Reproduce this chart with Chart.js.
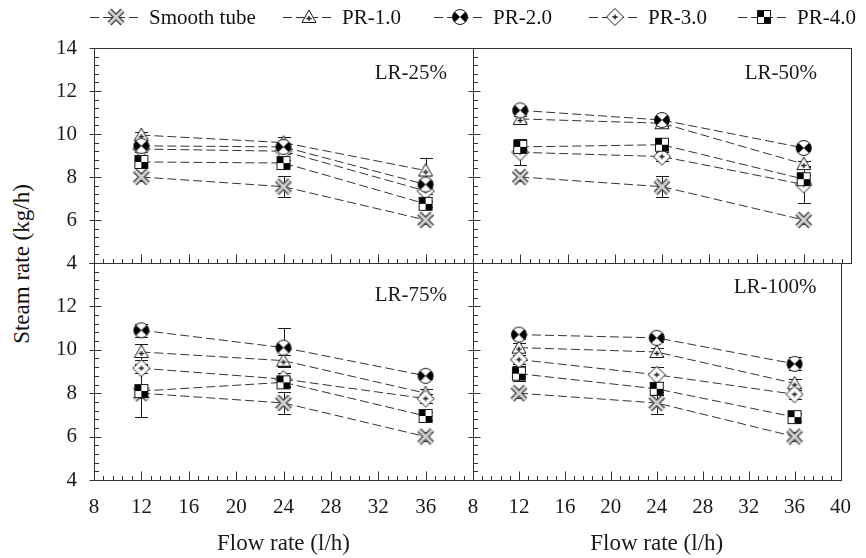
<!DOCTYPE html>
<html>
<head>
<meta charset="utf-8">
<script src="https://cdn.jsdelivr.net/npm/chart.js@4.4.0/dist/chart.umd.min.js"></script>
<style>
  html, body { margin: 0; padding: 0; background: #fff; }
  #wrap { position: relative; width: 866px; height: 558px; overflow: hidden;
          font-family: "Liberation Serif", "Times New Roman", serif; color: #111; }
  #wrap canvas.panel { position: absolute; left: 0; top: 0; }
  .legend-item { position: absolute; top: 4px; height: 26px; display: flex; align-items: center;
                 font-size: 21px; white-space: nowrap; }
  .legend-item canvas { margin-right: 7px; }
  #ytitle { position: absolute; left: 22px; top: 264px; transform: translate(-50%, -50%) rotate(-90deg);
            font-size: 23px; white-space: nowrap; }
</style>
</head>
<body>
<div id="wrap">
  <div id="ytitle">Steam rate (kg/h)</div>
</div>
<script>
// ---- data ----
const flowRates = [12, 24, 36];
const seriesNames = ['Smooth tube', 'PR-1.0', 'PR-2.0', 'PR-3.0', 'PR-4.0'];
const panelLabels = ['LR-25%', 'LR-50%', 'LR-75%', 'LR-100%'];
const xTickValues = [8, 12, 16, 20, 24, 28, 32, 36, 40];
const yTickValues = [4, 6, 8, 10, 12, 14];

// steam rate (kg/h), one row per series, one column per flow rate
const lr25Steam  = [[8.0, 7.55, 6.0], [9.95, 9.6, 8.3], [9.45, 9.4, 7.65], [9.3, 9.2, 7.35], [8.7, 8.65, 6.75]];
const lr50Steam  = [[8.0, 7.55, 6.0], [10.7, 10.5, 8.6], [11.1, 10.65, 9.35], [9.15, 8.95, 7.65], [9.4, 9.5, 7.9]];
const lr75Steam  = [[8.0, 7.55, 6.0], [9.9, 9.5, 8.0], [10.9, 10.1, 8.8], [9.15, 8.65, 7.75], [8.1, 8.5, 6.95]];
const lr100Steam = [[8.0, 7.55, 6.0], [10.1, 9.9, 8.45], [10.7, 10.55, 9.35], [9.55, 8.85, 7.95], [8.9, 8.2, 6.9]];

// error bar half-heights (kg/h)
const lr25Error  = [[0.2, 0.5, 0.2], [0.15, 0.25, 0.6], [0.15, 0.15, 0.15], [0.15, 0.15, 0.15], [0.15, 0.15, 0.15]];
const lr50Error  = [[0.2, 0.5, 0.2], [0.15, 0.15, 0.15], [0.15, 0.15, 0.15], [0.6, 0.2, 0.85], [0.3, 0.15, 0.2]];
const lr75Error  = [[0.2, 0.5, 0.2], [0.35, 0.25, 0.2], [0.3, 0.9, 0.15], [0.2, 0.3, 0.2], [1.2, 0.2, 0.2]];
const lr100Error = [[0.2, 0.5, 0.2], [0.2, 0.2, 0.2], [0.2, 0.2, 0.3], [0.2, 0.35, 0.2], [0.35, 0.3, 0.2]];

// ---- look ----
const INK = '#1a1a1a';
const LINE = '#333';
const FONT = 'Liberation Serif';
const X_MINOR_STEP = 0.8;
const Y_MINOR_STEP = 0.4;
Chart.defaults.font.family = FONT;
Chart.defaults.color = INK;

// marker glyphs drawn on small canvases, used as point styles
function makeMarker(kind) {
  const c = document.createElement('canvas');
  c.width = 20; c.height = 20;
  const g = c.getContext('2d');
  g.translate(10, 10);
  g.lineWidth = 1;
  g.strokeStyle = INK;
  const plus = (cx, cy, s) => {
    g.beginPath();
    g.moveTo(cx - s, cy); g.lineTo(cx + s, cy);
    g.moveTo(cx, cy - s); g.lineTo(cx, cy + s);
    g.lineWidth = 1.3; g.stroke(); g.lineWidth = 1;
  };
  if (kind === 0) {            // hollow cross
    g.lineCap = 'butt';
    g.beginPath();
    g.moveTo(-6.5, -6.5); g.lineTo(6.5, 6.5); g.moveTo(6.5, -6.5); g.lineTo(-6.5, 6.5);
    g.strokeStyle = '#4a4a4a'; g.lineWidth = 5.5; g.stroke();
    g.strokeStyle = '#d0d0d0'; g.lineWidth = 2.8; g.stroke();
  } else if (kind === 1) {     // triangle with plus
    g.beginPath();
    g.moveTo(0, -7); g.lineTo(7, 5.5); g.lineTo(-7, 5.5); g.closePath();
    g.fillStyle = '#fff'; g.fill(); g.stroke();
    plus(0, 1.5, 2.6);
  } else if (kind === 2) {     // bow-tie circle
    const r = 7.5;
    g.beginPath(); g.arc(0, 0, r, 0, Math.PI * 2);
    g.fillStyle = '#fff'; g.fill();
    g.fillStyle = '#000';
    g.beginPath(); g.moveTo(0, 0); g.arc(0, 0, r, -Math.PI / 4, Math.PI / 4); g.closePath(); g.fill();
    g.beginPath(); g.moveTo(0, 0); g.arc(0, 0, r, Math.PI * 3 / 4, Math.PI * 5 / 4); g.closePath(); g.fill();
    g.beginPath(); g.arc(0, 0, r, 0, Math.PI * 2); g.stroke();
  } else if (kind === 3) {     // diamond with plus
    g.beginPath();
    g.moveTo(0, -8.5); g.lineTo(8.5, 0); g.lineTo(0, 8.5); g.lineTo(-8.5, 0); g.closePath();
    g.fillStyle = '#fff'; g.fill(); g.stroke();
    plus(0, 0, 2.6);
  } else {                     // checkered square
    g.fillStyle = '#fff'; g.fillRect(-6, -6, 12, 12);
    g.fillStyle = '#000';
    g.fillRect(-6, -6, 6, 6); g.fillRect(0, 0, 6, 6);
    g.strokeRect(-6.5, -6.5, 13, 13);
  }
  return c;
}
const markers = seriesNames.map((_, i) => makeMarker(i));
const drawOrder = [5, 4, 2, 3, 1];

// frame, inward tick marks and panel caption
const framePlugin = {
  id: 'frame',
  afterDraw(chart, args, opts) {
    const { ctx, chartArea: a } = chart;
    const xs = chart.scales.x, ys = chart.scales.y;
    ctx.save();
    ctx.strokeStyle = LINE;
    ctx.lineWidth = 1;
    const seg = (x1, y1, x2, y2) => { ctx.beginPath(); ctx.moveTo(x1, y1); ctx.lineTo(x2, y2); ctx.stroke(); };
    const L = Math.round(a.left) + 0.5, R = Math.round(a.right) + 0.5;
    const T = Math.round(a.top) + 0.5, B = Math.round(a.bottom) + 0.5;
    ctx.strokeRect(L, T, R - L, B - T);
    // x ticks along the bottom edge, pointing up
    for (let v = xs.min; v <= xs.max + 1e-9; v += X_MINOR_STEP) {
      const px = Math.round(xs.getPixelForValue(v)) + 0.5;
      seg(px, B, px, B - 4.5);
    }
    xTickValues.forEach(v => {
      const px = Math.round(xs.getPixelForValue(v)) + 0.5;
      seg(px, B, px, B - 9);
    });
    // y ticks along the left edge
    for (let v = ys.min; v <= ys.max + 1e-9; v += Y_MINOR_STEP) {
      const py = Math.round(ys.getPixelForValue(v)) + 0.5;
      seg(L, py, L + 4.5, py);
    }
    yTickValues.forEach(v => {
      const py = Math.round(ys.getPixelForValue(v)) + 0.5;
      seg(L - 5, py, L + 7, py);
    });
    // caption
    ctx.fillStyle = INK;
    ctx.font = '21px "' + FONT + '"';
    ctx.textAlign = 'right';
    ctx.textBaseline = 'middle';
    ctx.fillText(opts.text, a.right - opts.dx, a.top + opts.dy);
    ctx.restore();
  }
};

// vertical error bars, drawn under the markers
const errorBarPlugin = {
  id: 'errorBars',
  beforeDatasetsDraw(chart) {
    const { ctx } = chart;
    const xs = chart.scales.x, ys = chart.scales.y;
    ctx.save();
    ctx.strokeStyle = INK;
    ctx.lineWidth = 1;
    chart.data.datasets.forEach(ds => {
      ds.data.forEach((p, j) => {
        const e = ds.errors[j];
        const px = Math.round(xs.getPixelForValue(p.x)) + 0.5;
        const y1 = ys.getPixelForValue(p.y - e), y2 = ys.getPixelForValue(p.y + e);
        ctx.beginPath();
        ctx.moveTo(px, y1); ctx.lineTo(px, y2);
        ctx.moveTo(px - 6.5, Math.round(y1) + 0.5); ctx.lineTo(px + 6.5, Math.round(y1) + 0.5);
        ctx.moveTo(px - 6.5, Math.round(y2) + 0.5); ctx.lineTo(px + 6.5, Math.round(y2) + 0.5);
        ctx.stroke();
      });
    });
    ctx.restore();
  }
};

const W = 866, H = 558;
const Y_AXIS_W = 40;
const panels = [
  { values: lr25Steam,  errors: lr25Error,  area: [94, 48, 473, 263],  yLabels: true,  xLabels: false, hideTop: false, hideRight: true,  cap: { dx: 26, dy: 25 } },
  { values: lr50Steam,  errors: lr50Error,  area: [473, 48, 851, 263], yLabels: false, xLabels: false, hideTop: false, hideRight: false, cap: { dx: 34, dy: 25 } },
  { values: lr75Steam,  errors: lr75Error,  area: [94, 263, 473, 480], yLabels: true,  xLabels: true,  hideTop: true,  hideRight: true,  cap: { dx: 26, dy: 32 } },
  { values: lr100Steam, errors: lr100Error, area: [473, 263, 851, 480], yLabels: false, xLabels: true, hideTop: true,  hideRight: false, cap: { dx: 24, dy: 24 } }
];

const wrap = document.getElementById('wrap');
panels.forEach((p, k) => {
  const cv = document.createElement('canvas');
  cv.className = 'panel';
  cv.width = W; cv.height = H;
  wrap.appendChild(cv);
  const [l, t, r, b] = p.area;
  const xAxisH = p.xLabels ? H - b : 0;
  new Chart(cv, {
    type: 'line',
    data: {
      datasets: p.values.map((row, i) => ({
        label: seriesNames[i],
        data: flowRates.map((x, j) => ({ x: x, y: row[j] })),
        errors: p.errors[i],
        order: drawOrder[i],
        borderColor: LINE,
        borderWidth: 1,
        borderDash: [9, 4],
        tension: 0,
        fill: false,
        pointStyle: markers[i],
        pointRadius: 8,
        pointHoverRadius: 8
      }))
    },
    options: {
      responsive: false,
      animation: false,
      devicePixelRatio: 1,
      events: [],
      layout: { padding: { left: l - Y_AXIS_W, top: t, right: W - r, bottom: H - b - xAxisH } },
      plugins: {
        legend: { display: false },
        tooltip: { enabled: false },
        frame: { text: panelLabels[k], dx: p.cap.dx, dy: p.cap.dy }
      },
      scales: {
        x: {
          type: 'linear', min: 8, max: 40,
          grid: { display: false, drawTicks: false },
          border: { display: false },
          afterBuildTicks: s => { s.ticks = xTickValues.map(v => ({ value: v })); },
          ticks: {
            display: p.xLabels, padding: 15, maxRotation: 0, autoSkip: false,
            font: { size: 21 }, color: INK,
            callback: v => (p.hideRight && v === 40) ? '' : String(v)
          },
          title: { display: p.xLabels, text: 'Flow rate (l/h)', font: { size: 23 }, color: INK, padding: 0 },
          afterFit: s => { s.height = xAxisH; }
        },
        y: {
          type: 'linear', min: 4, max: 14,
          grid: { display: false, drawTicks: false },
          border: { display: false },
          afterBuildTicks: s => { s.ticks = yTickValues.map(v => ({ value: v })); },
          ticks: {
            display: p.yLabels, padding: 17,
            font: { size: 21 }, color: INK,
            callback: v => (p.hideTop && v === 14) ? '' : String(v)
          },
          afterFit: s => { s.width = Y_AXIS_W; }
        }
      }
    },
    plugins: [framePlugin, errorBarPlugin]
  });
});

// legend row
const legendLeft = [90, 283, 434, 589, 738];
seriesNames.forEach((name, i) => {
  const item = document.createElement('div');
  item.className = 'legend-item';
  item.style.left = legendLeft[i] + 'px';
  const c = document.createElement('canvas');
  c.width = 52; c.height = 22;
  const g = c.getContext('2d');
  g.strokeStyle = LINE; g.lineWidth = 1; g.setLineDash([9, 4]);
  g.beginPath(); g.moveTo(0, 11.5); g.lineTo(52, 11.5); g.stroke();
  g.drawImage(markers[i], 26 - 10, 11 - 10);
  item.appendChild(c);
  const s = document.createElement('span');
  s.textContent = name;
  item.appendChild(s);
  wrap.appendChild(item);
});
</script>
</body>
</html>
